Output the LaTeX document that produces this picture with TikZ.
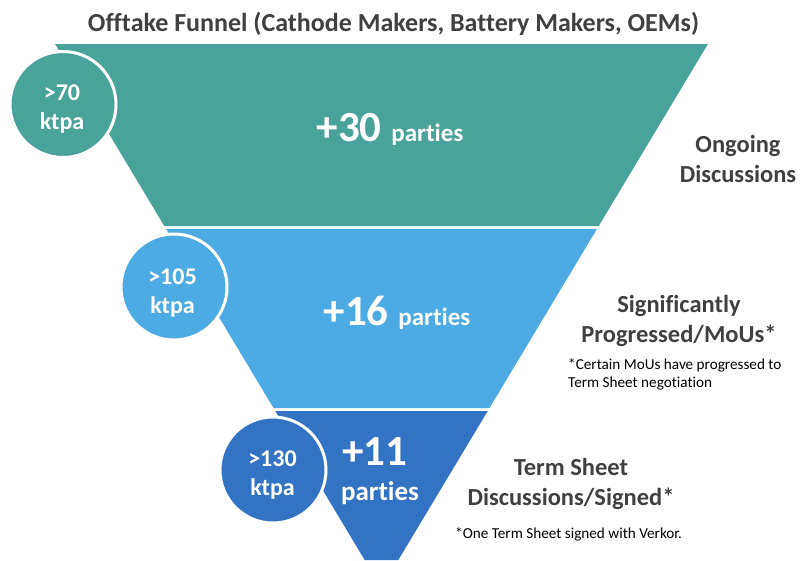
\documentclass[tikz,border=0pt]{standalone}
\usepackage{fontspec}
\setmainfont{Carlito}[Ligatures=NoCommon]
\begin{document}
\begin{tikzpicture}[x=1pt,y=-1pt,
  bandA/.style={fill=tealc},
  bandB/.style={fill=lightb},
  bandC/.style={fill=darkb},
  ring/.style={circle,draw=white,line width=3pt,minimum size=106pt,inner sep=0pt},
  ringtxt/.style={text=white,align=center,anchor=base,inner sep=0pt,
    font=\bfseries\fontsize{24}{29}\selectfont},
  bandtxt/.style={text=white,font=\bfseries,anchor=base,inner sep=0pt},
  lbl/.style={text=graytxt,font=\bfseries\fontsize{24.5}{30}\selectfont,align=center,anchor=base,inner sep=0pt},
  note/.style={text=black,font=\fontsize{15.2}{18}\selectfont,align=left,anchor=base west,inner sep=0pt}]
\definecolor{tealc}{HTML}{4AA39B}
\definecolor{lightb}{HTML}{4DABE3}
\definecolor{darkb}{HTML}{3373C4}
\definecolor{graytxt}{HTML}{404040}
\useasboundingbox (0,0) rectangle (800,560);
% funnel bands
\fill[bandA] (55.1,44) -- (707.9,44) -- (598.7,226) -- (164.3,226) -- cycle;
\fill[bandB] (166.1,229) -- (596.9,229) -- (489.5,408) -- (273.5,408) -- cycle;
\fill[bandC] (275.3,411) -- (487.7,411) -- (398.3,560) -- (364.7,560) -- cycle;
% title
\node[text=graytxt,font=\bfseries\fontsize{26}{30}\selectfont,anchor=base,inner sep=0pt] (title) at (393.5,31) {Offtake Funnel (Cathode Makers, Battery Makers, OEMs)};
% circles
\node[ring,fill=tealc] (c1) at (63,104.5) {};
\node[ring,fill=lightb] (c2) at (174,287) {};
\node[ring,fill=darkb] (c3) at (273,470) {};
\node[ringtxt] (c1t) at (62,129) {>70\\ktpa};
\node[ringtxt] (c2t) at (172.5,313) {>105\\ktpa};
\node[ringtxt] (c3t) at (272.5,495) {>130\\ktpa};
% band texts
\node[bandtxt] (t1) at (390,141) {\fontsize{43}{43}\selectfont +30 \fontsize{25}{25}\selectfont parties};
\node[bandtxt] (t2) at (397,325) {\fontsize{43}{43}\selectfont +16 \fontsize{25}{25}\selectfont parties};
\node[bandtxt] (t3a) at (375,465) {\fontsize{43}{43}\selectfont +11};
\node[bandtxt] (t3b) at (380,500) {\fontsize{27}{27}\selectfont parties};
% right labels
\node[lbl] (l1) at (738,182) {Ongoing\\Discussions};
\node[lbl] (l2) at (679,342) {Significantly\\Progressed/MoUs*};
\node[note] (n2) at (568,387) {*Certain MoUs have progressed to\\Term Sheet negotiation};
\node[lbl] (l3) at (571,505) {Term Sheet\\Discussions/Signed*};
\node[note] (n3) at (455,538) {*One Term Sheet signed with Verkor.};
\end{tikzpicture}
\end{document}
